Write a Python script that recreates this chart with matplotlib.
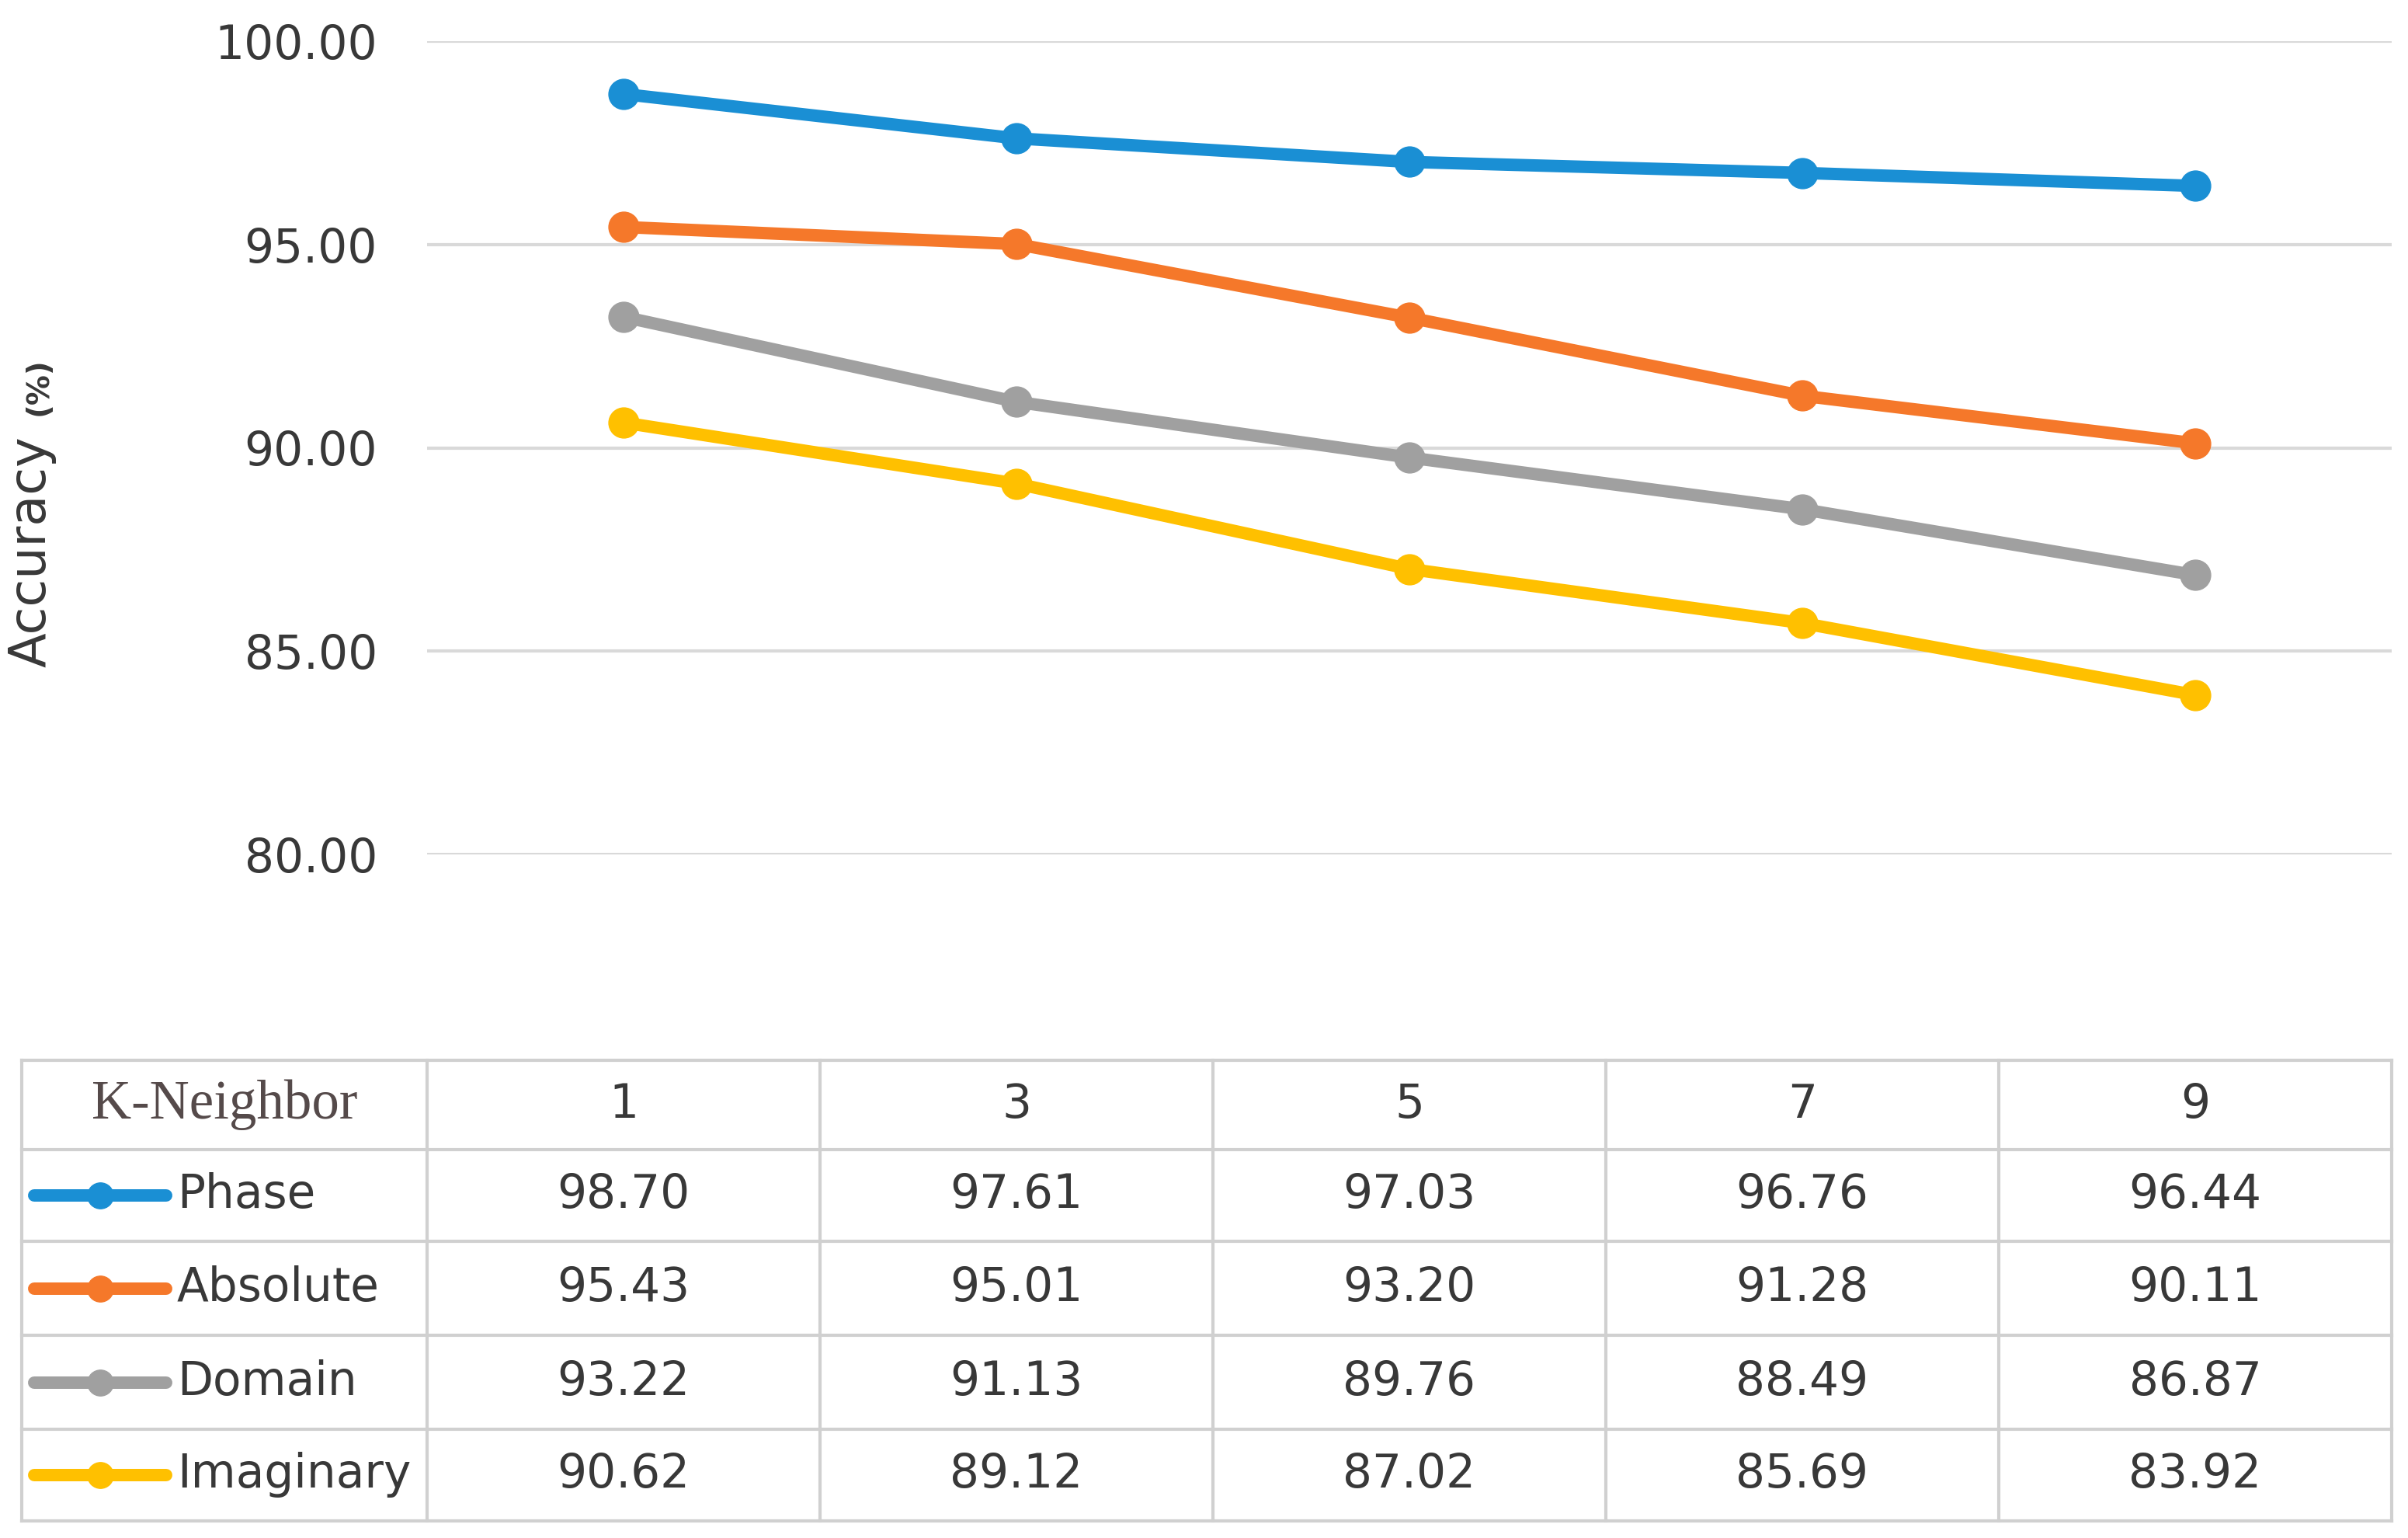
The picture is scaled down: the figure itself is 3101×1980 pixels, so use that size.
import matplotlib
matplotlib.use('Agg')
import matplotlib.pyplot as plt
from matplotlib.lines import Line2D

k_values = [1, 3, 5, 7, 9]
phase = [98.70, 97.61, 97.03, 96.76, 96.44]
absolute = [95.43, 95.01, 93.20, 91.28, 90.11]
domain = [93.22, 91.13, 89.76, 88.49, 86.87]
imaginary = [90.62, 89.12, 87.02, 85.69, 83.92]
series_names = ['Phase', 'Absolute', 'Domain', 'Imaginary']
y_ticks = [80, 85, 90, 95, 100]

colors = ['#1A8FD4', '#F5782A', '#A0A0A0', '#FFC000']
text_color = '#383838'
grid_color = '#d9d9d9'

W, H = 3101, 1980
fig = plt.figure(figsize=(W / 100, H / 100), dpi=100)


def px(x0, y0, x1, y1):
    # pixel box (top-left origin) -> figure fraction rect
    return [x0 / W, 1 - y1 / H, (x1 - x0) / W, (y1 - y0) / H]


ax = fig.add_axes(px(550, 53, 3080, 1100))
series = [phase, absolute, domain, imaginary]
for vals, c in zip(series, colors):
    ax.plot(k_values, vals, color=c, lw=11.5, marker='o', ms=28,
            solid_capstyle='round', solid_joinstyle='round', zorder=3)
ax.set_xlim(0, 10)
ax.set_ylim(80, 100)
ax.set_yticks(y_ticks)
ax.set_yticklabels([f'{v:.2f}' for v in y_ticks])
ax.yaxis.grid(True, color=grid_color, lw=3)
ax.set_axisbelow(True)
ax.set_xticks([])
for s in ax.spines.values():
    s.set_visible(False)
ax.tick_params(axis='y', length=0, pad=46, labelsize=43, labelcolor=text_color)

# y label, Excel style with small unit
fig.text(40 / W, 1 - 710 / H, 'Accuracy', rotation=90, ha='center', va='center',
         fontsize=47, color=text_color)
fig.text(50 / W, 1 - 498 / H, '(%)', rotation=90, ha='center', va='center',
         fontsize=28, color=text_color, fontweight='bold')

# data table under the chart
tab = fig.add_axes([0, 0, 1, 1])
tab.set_xlim(0, W)
tab.set_ylim(H, 0)
tab.axis('off')

to_px = lambda x: ax.transData.transform((x, 80))[0]
col_edges = [28] + [to_px(k - 1) for k in k_values] + [to_px(k_values[-1] + 1)]
row_edges = [1365, 1480, 1598, 1719, 1840, 1958]
border = '#d0d0d0'
for y in row_edges:
    tab.plot([col_edges[0], col_edges[-1]], [y, y], color=border, lw=3)
for x in col_edges:
    tab.plot([x, x], [row_edges[0], row_edges[-1]], color=border, lw=3)

hy = (row_edges[0] + row_edges[1]) / 2
tab.text((col_edges[0] + col_edges[1]) / 2, hy, 'K-Neighbor', ha='center', va='center',
         fontsize=51, family='Liberation Serif', color='#554a4a')
for k in k_values:
    tab.text(to_px(k), hy, str(k), ha='center', va='center', fontsize=43, color=text_color)

for i, (name, vals, c) in enumerate(zip(series_names, series, colors)):
    ry = (row_edges[i + 1] + row_edges[i + 2]) / 2
    tab.add_line(Line2D([44, 214], [ry, ry], color=c, lw=11.5, solid_capstyle='round'))
    tab.add_line(Line2D([129], [ry], color=c, marker='o', ms=24))
    tab.text(228, ry, name, ha='left', va='center', fontsize=43, color=text_color)
    for k, v in zip(k_values, vals):
        tab.text(to_px(k), ry, f'{v:.2f}', ha='center', va='center', fontsize=43, color=text_color)

fig.savefig('out.png', dpi=100, facecolor='white')
